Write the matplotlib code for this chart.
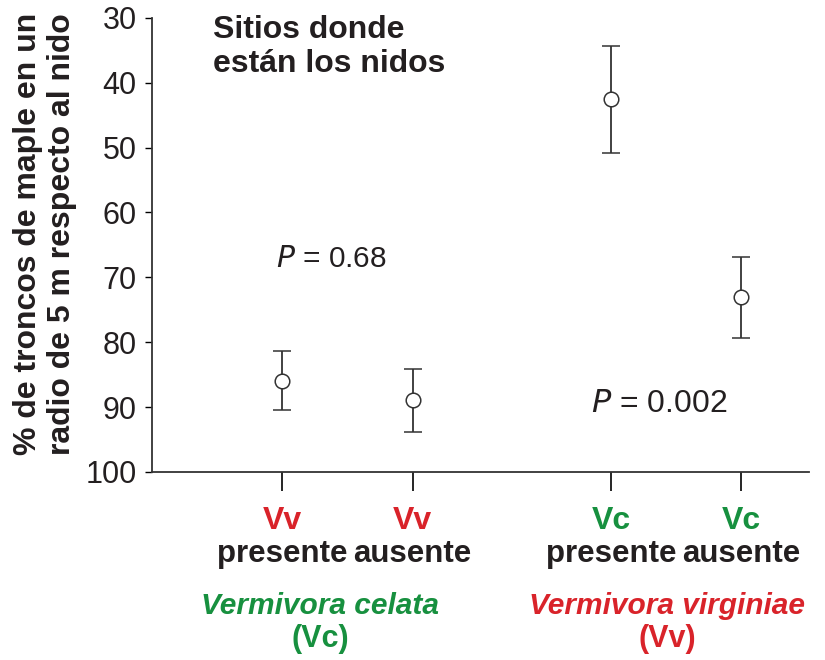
import matplotlib
matplotlib.use("Agg")
import matplotlib.pyplot as plt
import matplotlib.transforms as mtransforms

plt.rcParams['font.family'] = ['Liberation Sans', 'DejaVu Sans']

# data
positions = [1.0, 2.0, 3.52, 4.52]
means = [86.0, 88.9, 42.5, 73.0]
err_low = [81.3, 84.1, 34.3, 66.8]    # upper whisker (smaller %)
err_high = [90.4, 93.8, 50.8, 79.3]   # lower whisker (larger %)
tick_codes = ['Vv', 'Vv', 'Vc', 'Vc']
tick_words = ['presente', 'ausente', 'presente', 'ausente']
y_ticks = [30, 40, 50, 60, 70, 80, 90, 100]

RED = '#d9232a'
GREEN = '#17903f'
INK = '#231f20'
code_colors = {'Vv': RED, 'Vc': GREEN}

fig = plt.figure(figsize=(8.25, 6.6), dpi=100)
ax = fig.add_axes([0.184, 0.285, 0.797, 0.688])

yerr = [[m - lo for m, lo in zip(means, err_low)],
        [hi - m for m, hi in zip(means, err_high)]]
ax.errorbar(positions, means, yerr=yerr, fmt='o', color='#333333',
            mfc='white', mec='#333333', ms=10.5, mew=1.1,
            ecolor='#333333', elinewidth=1.3, capsize=6.5, capthick=1.3)

ax.set_ylim(100, 30)
ax.set_xlim(0.0, 5.04)
ax.set_yticks(y_ticks)
ax.tick_params(axis='y', direction='out', length=5, width=1, labelsize=22,
               labelcolor=INK, pad=6)
ax.set_xticks(positions)
ax.set_xticklabels([])
ax.tick_params(axis='x', direction='out', length=14, width=1.2)
for s in ['top', 'right']:
    ax.spines[s].set_visible(False)
for s in ['left', 'bottom']:
    ax.spines[s].set_color('#333333')
    ax.spines[s].set_linewidth(1.3)

fig.text(45 / 825, 1 - 234 / 660,
         '% de troncos de maple en un\nradio de 5 m respecto al nido',
         rotation=90, ha='center', va='center', multialignment='center',
         fontsize=23, fontweight='bold', color=INK, linespacing=1.15)

ax.text(0.47, 29.6, 'Sitios donde\nestán los nidos', fontsize=23,
        fontweight='bold', color=INK, va='top', ha='left', linespacing=1.18)

ax.text(0.95, 67.2, '$\\it{P}$ = 0.68', fontsize=21.5, color=INK,
        ha='left', va='center')
ax.text(3.37, 89.6, '$\\it{P}$ = 0.002', fontsize=23, color=INK,
        ha='left', va='center')

# category labels below the axis
trans = mtransforms.blended_transform_factory(ax.transData, fig.transFigure)
for x, code, word in zip(positions, tick_codes, tick_words):
    ax.text(x, 1 - 521 / 660, code, transform=trans, ha='center', va='center',
            fontsize=23, fontweight='bold', color=code_colors[code])
    ax.text(x, 1 - 554 / 660, word, transform=trans, ha='center', va='center',
            fontsize=22.5, fontweight='bold', color=INK)

groups = [('Vermivora celata', '(Vc)', GREEN, 1.29),
          ('Vermivora virginiae', '(Vv)', RED, 3.95)]
for name, abbr, col, x in groups:
    ax.text(x, 1 - 606 / 660, name, transform=trans, ha='center', va='center',
            fontsize=21.5, fontweight='bold', style='italic', color=col)
    ax.text(x, 1 - 639 / 660, abbr, transform=trans, ha='center', va='center',
            fontsize=22, fontweight='bold', color=col)

fig.savefig('out.png', dpi=100)
